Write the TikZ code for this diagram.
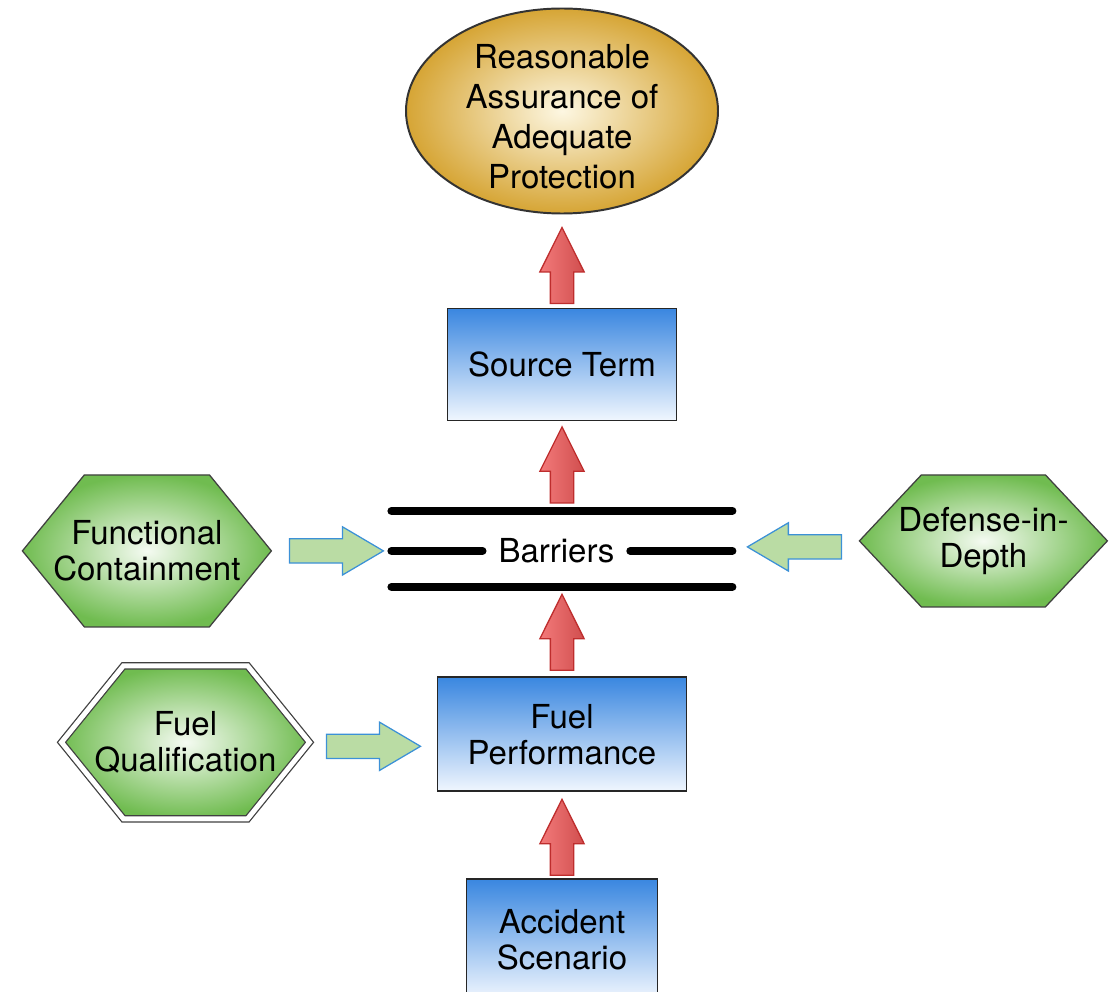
\documentclass[tikz,border=0pt]{standalone}
\usepackage{fontspec}
\setmainfont{TeX Gyre Heros}
\usetikzlibrary{positioning, shapes, shapes.arrows, shapes.symbols, calc}

\definecolor{goldrim}{RGB}{214,165,53}
\definecolor{goldcore}{RGB}{253,247,226}
\definecolor{bluetop}{RGB}{58,135,224}
\definecolor{bluebot}{RGB}{240,246,254}
\definecolor{hexrim}{RGB}{112,188,80}
\definecolor{hexcore}{RGB}{245,251,242}
\definecolor{redtip}{RGB}{208,78,78}
\definecolor{redtail}{RGB}{243,122,122}
\definecolor{redline}{RGB}{190,45,45}
\definecolor{greenfill}{RGB}{186,220,164}
\definecolor{blueline}{RGB}{60,145,215}

\begin{document}
\begin{tikzpicture}[
    every node/.style={outer sep=0pt},
    labelfont/.style={font=\fontsize{23.5pt}{25.6pt}\selectfont},
    goal/.style={ellipse, draw=black!80, line width=1.4pt,
        inner color=goldcore, outer color=goldrim,
        minimum width=7.8cm, minimum height=5.125cm,
        inner xsep=0pt, inner ysep=-0.3cm, align=center,
        font=\fontsize{23.5pt}{28.45pt}\selectfont},
    bluebox/.style={rectangle, draw=black!85, line width=1.4pt,
        top color=bluetop, bottom color=bluebot, align=center, labelfont},
    hex/.style={signal, signal to=west and east, draw=black!75, line width=0.9pt,
        inner color=hexcore, outer color=hexrim,
        inner xsep=-1.2cm, inner ysep=0pt, align=center, labelfont},
    barrierlabel/.style={inner xsep=0.4cm, inner ysep=0pt, text height=0.6cm,
        text depth=0pt, labelfont},
    barrier/.style={line width=0.2cm, line cap=round},
    uparrow/.style={single arrow, rotate=90, anchor=tail, draw=redline, line width=0.9pt,
        left color=redtail, right color=redtip,
        minimum height=1.9cm, text height=0.55cm, text depth=0pt, inner sep=0pt,
        single arrow head extend=0.2625cm, single arrow tip angle=53},
    sidearrow/.style={single arrow, draw=blueline, line width=0.9pt, fill=greenfill,
        minimum height=2.35cm, text height=0.575cm, text depth=0pt, inner sep=0pt,
        single arrow head extend=0.3cm, single arrow tip angle=61}
]
\useasboundingbox (0,0) rectangle (27.85,-24.8);

% Goal at the top
\node[goal] (goal) at (14.05,-2.775) {\rule{0pt}{0.9cm}Reasonable\\Assurance of\\Adequate\\Protection};

% Main chain
\node[bluebox, minimum width=5.725cm, minimum height=2.8cm, below=2.375cm of goal] (st) {Source Term};
\node[barrierlabel, below=2.96cm of st, xshift=-0.14cm] (bar) {Barriers};
\node[bluebox, minimum width=6.225cm, minimum height=2.85cm, below=2.86cm of bar, xshift=0.14cm] (fp) {Fuel\\Performance};
\node[bluebox, minimum width=4.775cm, minimum height=3cm, below=2.2cm of fp] (as) {Accident\\Scenario};

% Barrier lines
\coordinate (b1w) at ($(bar.center)+(-4.125,1)$);
\coordinate (b1e) at ($(bar.center)+(4.4,1)$);
\coordinate (b2w) at ($(bar.center)+(-4.125,0)$);
\coordinate (b2e) at ($(bar.center)+(4.4,0)$);
\coordinate (b3w) at ($(bar.center)+(-4.125,-0.9)$);
\coordinate (b3e) at ($(bar.center)+(4.4,-0.9)$);
\draw[barrier] (b1w) -- (b1e);
\draw[barrier] (b2w) -- (bar);
\draw[barrier] (bar) -- (b2e);
\draw[barrier] (b3w) -- (b3e);

% Red arrows going up
\node[uparrow] (up1) at ($(st.north)+(0,0.125)$) {};
\node[uparrow] (up2) at ($(b1w -| st.south)+(0,0.2)$) {};
\node[uparrow] (up3) at ($(fp.north)+(0,0.175)$) {};
\node[uparrow] (up4) at ($(as.north)+(0,0.1)$) {};

% Side inputs
\node[hex, signal pointer angle=101.6, minimum width=6.225cm, minimum height=3.8cm, left=3cm of b2w] (fc) {Functional\\Containment};
\node[sidearrow, right=0.45cm of fc] (fcin) {};
\node[hex, signal pointer angle=93.6, minimum width=6.2cm, minimum height=3.3cm, right=3.175cm of b2e, yshift=0.25cm] (dd) {Defense-in-\\Depth};
\node[sidearrow, rotate=180, anchor=tail] (ddin) at ($(dd.west)+(-0.45,-0.15)$) {};
\node[hex, double, double distance=3.5pt, signal pointer angle=102, minimum width=6.2cm, minimum height=3.825cm, left=3.2cm of fp, yshift=-0.2cm] (fq) {Fuel\\Qualification};
\node[sidearrow, anchor=tail] (fqin) at ($(fq.east)+(0.425,-0.1)$) {};

\end{tikzpicture}
\end{document}
